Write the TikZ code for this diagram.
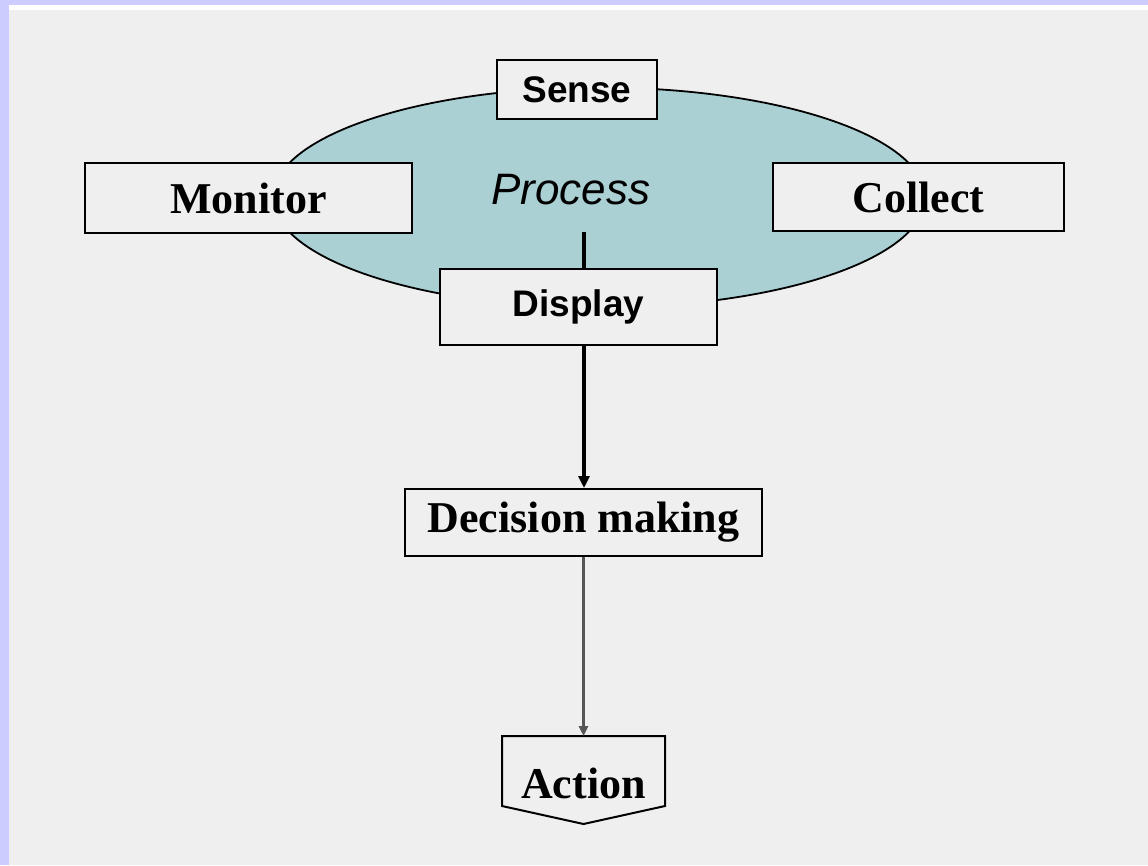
\documentclass[tikz,border=0pt]{standalone}
\usepackage{fontspec}
\setmainfont{Liberation Serif}
\setsansfont{Liberation Sans}
\usetikzlibrary{shapes.geometric,arrows.meta}
\definecolor{pagebg}{HTML}{EFEFEF}
\definecolor{frame}{HTML}{CCCCFF}
\definecolor{procfill}{HTML}{AAD0D4}
\definecolor{darkline}{HTML}{555555}
\tikzset{
  x=1pt, y=-1pt,
  boxsans/.style={draw=black, line width=2pt, fill=pagebg, inner sep=0pt,
    font=\sffamily\bfseries\fontsize{37}{40}\selectfont},
  boxserif/.style={draw=black, line width=2pt, fill=pagebg, inner sep=0pt,
    font=\rmfamily\bfseries\fontsize{44}{48}\selectfont},
  flow/.style={line width=3.5pt, -{Triangle[length=12pt,width=11pt]}},
}
\begin{document}
\begin{tikzpicture}
  % page and frame
  \useasboundingbox (0,0) rectangle (1148,865);
  \fill[pagebg] (0,0) rectangle (1148,865);
  \fill[white] (9,5) rectangle (1148,10);
  \fill[frame] (0,0) rectangle (1148,5);
  \fill[frame] (0,0) rectangle (9,865);

  % process ellipse
  \node[ellipse, draw=black, line width=1.8pt, fill=procfill,
        minimum width=652pt, minimum height=220pt] (proc) at (599,197.5) {};
  \node[font=\sffamily\itshape\fontsize{44}{48}\selectfont] (ptext) at (571,190) {Process};
  \coordinate (ptop) at (584,232);

  % boxes around the ellipse
  \node[boxsans, minimum width=160pt, minimum height=59pt] (sense) at (577,89.5) {Sense};
  \node[boxsans, minimum width=277pt, minimum height=76pt] (display) at (578.5,307) {Display};
  \node[boxserif, minimum width=327pt, minimum height=70pt] (monitor) at (248.5,198) {Monitor};
  \node[boxserif, minimum width=291pt, minimum height=68pt] (collect) at (918.5,197) {Collect};

  % decision and action
  \node[boxserif, minimum width=357pt, minimum height=67pt] (decision) at (583.5,522.5)
    {\raisebox{-4pt}{Decision making}};
  \draw[line width=2pt, line join=miter]
    (502,736) -- (665,736) -- (665,806) -- (583.5,824) -- (502,806) -- cycle;
  \node[font=\rmfamily\bfseries\fontsize{44}{48}\selectfont, inner sep=0pt] (action) at (583.5,783) {Action};
  \coordinate (atop) at (583.5,736);

  % connectors
  \draw[line width=3.5pt] (ptop) -- (display.north -| ptop);
  \draw[flow] (display.south -| ptop) -- (decision.north -| ptop);
  \draw[flow, draw=darkline, fill=darkline, line width=3pt,
        -{Triangle[length=10pt,width=9pt]}] (decision.south) -- (atop);
  % redraw box on top of the line
  \node[boxsans, minimum width=277pt, minimum height=76pt] at (display) {Display};
\end{tikzpicture}
\end{document}
